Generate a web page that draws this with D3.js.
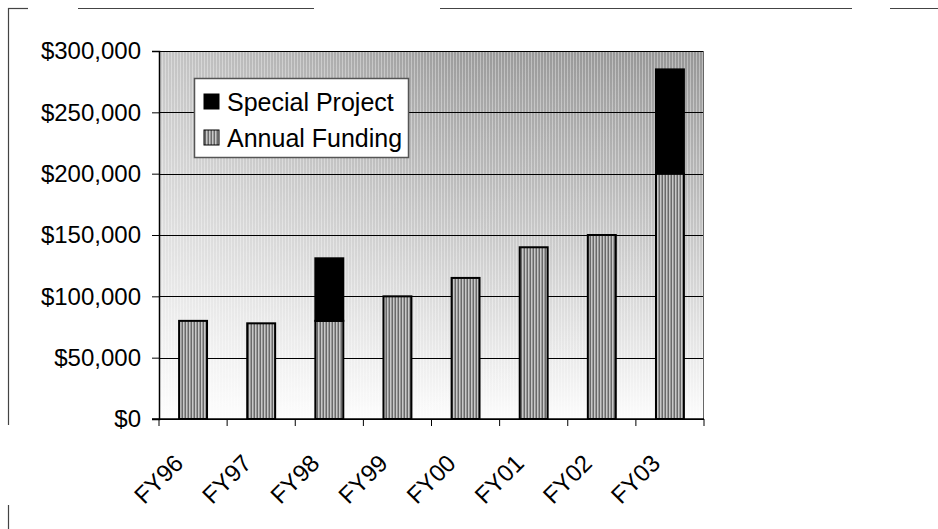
<!DOCTYPE html>
<html>
<head>
<meta charset="utf-8">
<script src="https://cdn.jsdelivr.net/npm/d3@7"></script>
<style>
  body { margin: 0; background: #fff; }
  text { font-family: Arial, "Liberation Sans", sans-serif; fill: #000; }
</style>
</head>
<body>
<div id="main"></div>
<script>
// chart values
var categories = ["FY96", "FY97", "FY98", "FY99", "FY00", "FY01", "FY02", "FY03"];
var annualFunding = [80000, 78000, 80000, 100000, 115000, 140000, 150000, 200000];
var specialProject = [0, 0, 51000, 0, 0, 0, 0, 85000];
var yTicks = [0, 50000, 100000, 150000, 200000, 250000, 300000];
var seriesNames = ["Annual Funding", "Special Project"];

var W = 938, H = 529;
var margin = {top: 51, right: 234, bottom: 110, left: 159},
    width = W - margin.left - margin.right,
    height = H - margin.top - margin.bottom;

var svg = d3.select("#main")
  .append("svg")
    .attr("width", W)
    .attr("height", H);

var defs = svg.append("defs");
var grad = defs.append("linearGradient")
    .attr("id", "bg").attr("x1", 0).attr("y1", 0).attr("x2", 0).attr("y2", 1);
grad.append("stop").attr("offset", "0%").attr("stop-color", "#969696");
grad.append("stop").attr("offset", "45%").attr("stop-color", "#c2c2c2");
grad.append("stop").attr("offset", "100%").attr("stop-color", "#fcfcfc");

var hgrad = defs.append("linearGradient")
    .attr("id", "bgh").attr("x1", 0).attr("y1", 0).attr("x2", 1).attr("y2", 0);
hgrad.append("stop").attr("offset", "0%").attr("stop-color", "#fff").attr("stop-opacity", 0.45);
hgrad.append("stop").attr("offset", "55%").attr("stop-color", "#fff").attr("stop-opacity", 0.05);
hgrad.append("stop").attr("offset", "100%").attr("stop-color", "#fff").attr("stop-opacity", 0);

// vertical stripe texture like the dithering in the scan
var pat = defs.append("pattern")
    .attr("id", "stripes").attr("width", 3).attr("height", 3)
    .attr("patternUnits", "userSpaceOnUse");
pat.append("rect").attr("width", 1).attr("height", 3).attr("fill", "#fff").attr("fill-opacity", 0.35);

var bpat = defs.append("pattern")
    .attr("id", "barfill").attr("width", 3).attr("height", 3)
    .attr("patternUnits", "userSpaceOnUse");
bpat.append("rect").attr("width", 3).attr("height", 3).attr("fill", "#9a9a9a");
bpat.append("rect").attr("width", 1).attr("height", 3).attr("fill", "#c8c8c8");
bpat.append("rect").attr("x", 2).attr("width", 1).attr("height", 3).attr("fill", "#6a6a6a");

// outer frame (scanned border, broken in places)
var frame = svg.append("g").attr("stroke", "#444").attr("stroke-width", 1.2);
[[8, 28], [78, 314], [440, 852], [890, 938]].forEach(function(s) {
  frame.append("line").attr("x1", s[0]).attr("x2", s[1]).attr("y1", 8.5).attr("y2", 8.5);
});
[[8, 425], [505, 529]].forEach(function(s) {
  frame.append("line").attr("x1", 8.5).attr("x2", 8.5).attr("y1", s[0]).attr("y2", s[1]);
});

var g = svg.append("g")
    .attr("transform", "translate(" + margin.left + "," + margin.top + ")");

var x = d3.scaleBand()
    .domain(categories)
    .range([0, width])
    .paddingInner(0.59)
    .paddingOuter(0.295);

var y = d3.scaleLinear()
    .domain([0, 300000])
    .range([height, 0]);

// plot area background
g.append("rect").attr("width", width).attr("height", height).attr("fill", "url(#bg)");
g.append("rect").attr("width", width).attr("height", height).attr("fill", "url(#bgh)");
g.append("rect").attr("width", width).attr("height", height).attr("fill", "url(#stripes)");

// gridlines
g.append("g")
  .selectAll("line")
  .data(yTicks)
  .enter()
  .append("line")
    .attr("x1", 0).attr("x2", width)
    .attr("y1", function(d) { return Math.round(y(d)) + 0.5; })
    .attr("y2", function(d) { return Math.round(y(d)) + 0.5; })
    .attr("stroke", "#000").attr("stroke-width", 1);

g.append("line")
    .attr("x1", width - 0.5).attr("x2", width - 0.5)
    .attr("y1", 0).attr("y2", height)
    .attr("stroke", "#666");

// stacked bars
var table = categories.map(function(c, i) {
  return {cat: c, "Annual Funding": annualFunding[i], "Special Project": specialProject[i]};
});
var stacked = d3.stack().keys(seriesNames)(table);
var colors = {"Annual Funding": "url(#barfill)", "Special Project": "#000"};

g.append("g")
  .selectAll("g")
  .data(stacked)
  .enter()
  .append("g")
    .attr("fill", function(d) { return colors[d.key]; })
  .selectAll("rect")
  .data(function(d) { return d.filter(function(e) { return e[1] - e[0] > 0; }); })
  .enter()
  .append("rect")
    .attr("x", function(d) { return x(d.data.cat); })
    .attr("y", function(d) { return y(d[1]); })
    .attr("width", x.bandwidth())
    .attr("height", function(d) { return y(d[0]) - y(d[1]); })
    .attr("stroke", "#000")
    .attr("stroke-width", 2);

// y axis
var yAxis = g.append("g")
    .call(d3.axisLeft(y).tickValues(yTicks).tickSize(7).tickPadding(11)
      .tickFormat(function(d) { return "$" + d3.format(",")(d); }));
yAxis.select(".domain").attr("stroke", "#000").attr("stroke-width", 1.5);
yAxis.selectAll("text").style("font-size", "24px");

// x axis with ticks between categories
var boundaries = d3.range(categories.length + 1).map(function(i) { return i * width / categories.length; });
var xAxis = g.append("g").attr("transform", "translate(0," + height + ")");
xAxis.append("line").attr("x1", -7).attr("x2", width).attr("stroke", "#000").attr("stroke-width", 1.5);
xAxis.selectAll(".tk")
  .data(boundaries)
  .enter()
  .append("line")
    .attr("class", "tk")
    .attr("x1", function(d) { return d; }).attr("x2", function(d) { return d; })
    .attr("y1", 0).attr("y2", 7)
    .attr("stroke", "#000");
xAxis.selectAll(".lbl")
  .data(categories)
  .enter()
  .append("text")
    .attr("class", "lbl")
    .attr("text-anchor", "end")
    .attr("transform", function(d) {
      return "translate(" + (x(d) + x.bandwidth() / 2 - 21) + "," + 33 + ") rotate(-45)";
    })
    .attr("dy", "0.75em")
    .style("font-size", "24px")
    .text(function(d) { return d; });

// legend
var legend = svg.append("g").attr("transform", "translate(194,78)");
legend.append("rect").attr("x", 0.5).attr("y", 0.5).attr("width", 214).attr("height", 79)
    .attr("fill", "#fff").attr("stroke", "#555").attr("stroke-width", 1.5);
var legendItems = ["Special Project", "Annual Funding"];
legend.selectAll(".li")
  .data(legendItems)
  .enter()
  .append("rect")
    .attr("class", "li")
    .attr("x", 10).attr("y", function(d, i) { return 16 + i * 36; })
    .attr("width", 15).attr("height", 15)
    .attr("fill", function(d) { return colors[d]; })
    .attr("stroke", "#000");
legend.selectAll(".lt")
  .data(legendItems)
  .enter()
  .append("text")
    .attr("class", "lt")
    .attr("x", 33).attr("y", function(d, i) { return 24 + i * 36; })
    .attr("dy", "0.36em")
    .style("font-size", "25px")
    .text(function(d) { return d; });
</script>
</body>
</html>
